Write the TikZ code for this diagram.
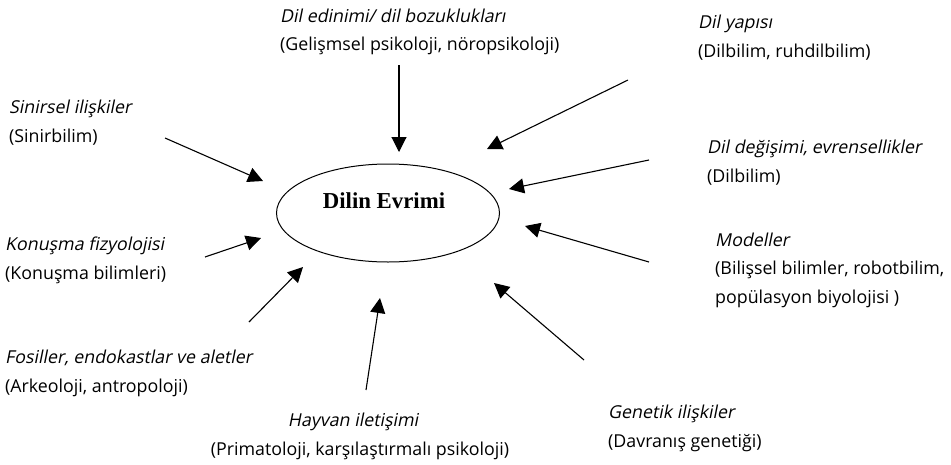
\documentclass[tikz,border=0pt]{standalone}
\usepackage{fontspec}
\setmainfont{Open Sans}
\newfontfamily\miring{Open Sans}[FakeSlant=0.2]
\newfontfamily\timesbold{Liberation Serif}
\newcommand{\nama}[1]{{\miring #1}}
\usetikzlibrary{arrows.meta,positioning,shapes.geometric}
\tikzset{
	lbl/.style={inner sep=0pt, align=left, anchor=base west, font=\fontsize{17.8}{28.5}\selectfont},
	ok/.style={line width=1.1pt, -{Triangle[length=15pt,width=15pt]}},
}

\begin{document}
\begin{tikzpicture}[x=1pt,y=-1pt]
\useasboundingbox (0,0) rectangle (951,464);

% elips tengah
\node[draw, line width=1pt, ellipse, minimum width=223pt, minimum height=98pt] (evrim) at (388,213) {};
\node[font=\timesbold\bfseries\fontsize{22.8}{26}\selectfont, inner sep=0pt] (judul) at (384,201) {Dilin Evrimi};

% label-label (posisi = baris terakhir)
\node[lbl] (edinim) at (280,50.5) {\nama{Dil edinimi/ dil bozuklukları}\\(Gelişmsel psikoloji, nöropsikoloji)};
\node[lbl] (yapi) at (698,57) {\nama{Dil yapısı}\\(Dilbilim, ruhdilbilim)};
\node[lbl] (sinir) at (9,142) {\nama{Sinirsel ilişkiler}\\(Sinirbilim)};
\node[lbl] (degisim) at (707,182) {\nama{Dil değişimi, evrensellikler}\\(Dilbilim)};
\node[lbl] (model) at (715,303) {\nama{Modeller}\\(Bilişsel bilimler, robotbilim,\\popülasyon biyolojisi )};
\node[lbl] (konusma) at (5,279) {\nama{Konuşma fizyolojisi}\\(Konuşma bilimleri)};
\node[lbl] (fosil) at (5,392) {\nama{Fosiller, endokastlar ve aletler}\\(Arkeoloji, antropoloji)};
\node[lbl, align=center, anchor=base] (hayvan) at (360,455) {\nama{Hayvan iletişimi}\hspace*{14pt}\\(Primatoloji, karşılaştırmalı psikoloji)};
\node[lbl] (genetik) at (608,447) {\nama{Genetik ilişkiler}\\(Davranış genetiği)};

% titik ujung panah
\coordinate (a1) at (399,65);   \coordinate (b1) at (399,152);
\coordinate (a2) at (628,80);   \coordinate (b2) at (487,149);
\coordinate (a3) at (649,160);  \coordinate (b3) at (509,189);
\coordinate (a4) at (649,262);  \coordinate (b4) at (525,226);
\coordinate (a5) at (584,360);  \coordinate (b5) at (494,283);
\coordinate (a6) at (366,390);  \coordinate (b6) at (380,298);
\coordinate (a7) at (249,322);  \coordinate (b7) at (303,267);
\coordinate (a8) at (205,257);  \coordinate (b8) at (261,238);
\coordinate (a9) at (165,138);  \coordinate (b9) at (263,181);

% panah
\foreach \i in {1,...,9}
	\draw[ok] (a\i) -- (b\i);

\end{tikzpicture}
\end{document}
